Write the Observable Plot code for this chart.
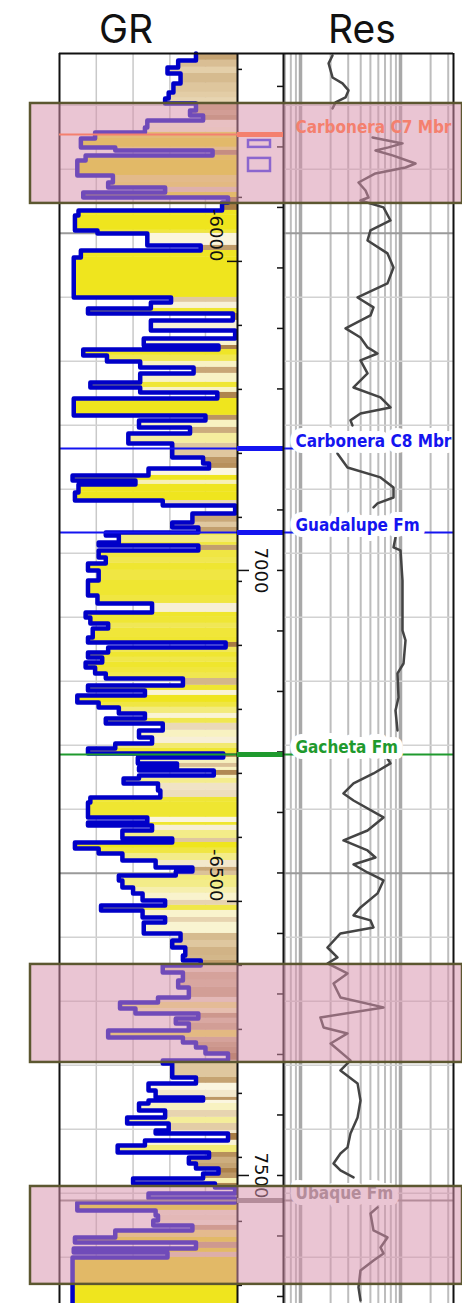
<!DOCTYPE html>
<html><head><meta charset="utf-8">
<script src="https://cdn.jsdelivr.net/npm/d3@7"></script>
<script src="https://cdn.jsdelivr.net/npm/@observablehq/plot@0.6"></script>
<style>
body{margin:0;background:#fff;}
#wrap{position:relative;width:462px;height:1303px;overflow:hidden;background:#fff;}
#wrap svg{position:absolute;left:0;top:0;}
.title{position:absolute;top:9px;font-family:Inter,"Open Sans",sans-serif;font-size:39px;font-weight:400;color:#111;line-height:39px;transform:translateX(-50%);white-space:nowrap;}
</style></head><body><div id="wrap"></div>
<script>
// ---------- data ----------
const depthTop = 6572.8, depthBottom = 7605.8;   // MD, ft

const grDepth = [6572.8,6578.5,6584.3,6589.3,6597.5,6605.0,6609.9,6614.1,6619.9,6624.0,
6628.1,6633.9,6638.0,6643.0,6650.4,6652.9,6657.0,6661.2,6673.6,6679.4,
6683.5,6687.6,6691.8,6695.9,6702.5,6706.6,6719.0,6721.5,6731.4,6735.6,
6741.3,6774.4,6778.5,6783.5,6787.6,6793.4,6801.7,6808.3,6814.1,6817.4,
6822.3,6827.3,6832.2,6837.2,6844.6,6848.8,6852.9,6857.9,6871.9,6876.0,
6881.8,6886.8,6895.0,6906.6,6911.6,6915.7,6921.5,6925.6,6928.9,6935.5,
6942.2,6946.3,6952.9,6960.3,6964.5,6968.6,6971.1,6976.9,6979.3,6983.5,
6989.3,6994.2,7000.0,7008.3,7020.7,7027.3,7034.7,7038.8,7043.8,7047.9,
7055.4,7059.5,7063.6,7067.8,7071.9,7076.0,7080.2,7085.1,7089.3,7095.0,
7099.2,7103.3,7109.1,7113.2,7118.2,7122.3,7126.4,7132.2,7138.0,7143.0,
7147.1,7151.2,7154.5,7159.5,7162.8,7165.3,7169.4,7171.9,7176.0,7181.8,
7187.6,7191.7,7204.1,7208.3,7210.7,7214.9,7221.5,7224.8,7229.7,7233.9,
7239.7,7245.4,7248.7,7252.1,7256.2,7262.0,7266.9,7272.7,7276.8,7281.0,
7286.8,7290.9,7300.0,7305.8,7311.6,7318.2,7322.3,7326.4,7332.2,7338.8,
7344.6,7352.9,7357.0,7362.0,7366.1,7370.2,7374.4,7380.1,7385.9,7390.1,
7394.2,7399.2,7404.9,7407.4,7419.0,7423.9,7429.7,7435.5,7438.0,7440.5,
7446.3,7452.0,7457.0,7462.8,7465.3,7471.0,7475.2,7481.0,7485.1,7490.1,
7494.2,7498.3,7502.5,7506.6,7509.9,7514.8,7519.0,7522.3,7528.9,7533.0,
7537.2,7541.3,7545.4,7551.2,7555.3,7560.3,7563.6,7567.7];
const grValue = [115,100,91,102,96,92,89,115,110,121,
74,72,30,18,47,129,22,15,45,41,
89,20,142,137,16,13,32,74,119,18,
12,94,77,24,146,77,148,71,134,20,
40,68,113,68,26,68,133,12,123,67,
110,58,95,121,126,75,11,64,16,13,
87,148,112,95,117,39,50,33,117,33,
39,24,33,24,32,78,22,26,41,28,
24,140,41,24,36,22,30,39,104,24,
72,15,33,50,72,39,87,67,78,47,
24,138,66,99,67,130,67,54,83,85,
26,24,74,24,78,53,95,13,33,53,
81,112,98,50,53,62,70,89,35,70,
89,71,102,95,106,104,119,87,104,100,
109,83,51,64,117,98,109,41,104,115,
123,142,87,95,115,75,81,121,75,67,
89,57,92,81,142,72,49,126,109,115,
134,121,62,131,148,75,148,15,81,83,
79,112,47,13,115,12,91,11];

const resDepth = [6574.4,6581.0,6592.6,6597.5,6603.3,6609.1,6613.2,6618.2,
6642.2,6647.1,6650.4,6652.9,6657.0,6663.7,6667.0,6671.9,6679.4,6686.0,6691.8,6694.3,6700.0,6710.8,6719.0,6727.3,6738.0,6749.6,6762.8,6774.4,6782.6,6789.3,6800.0,6807.5,6815.7,6820.7,6826.4,6837.2,6848.8,6857.0,6865.3,6870.3,6876.0,6880.2,
6903.3,6914.9,6923.1,6931.4,6939.7,6944.6,6947.9,
6972.7,6981.0,6983.5,7008.3,7049.6,7057.8,7076.9,7085.1,7105.0,7115.7,7132.2,
7155.4,7159.5,7167.8,7176.0,7184.3,7190.1,7204.1,7214.9,7223.1,7231.4,7237.2,7243.0,7249.6,7256.2,7266.9,7278.5,7285.1,7289.2,7295.0,7300.0,7311.6,7319.8,7324.8,7333.0,7341.3,7352.9,7361.1,7369.4,7377.7,7382.6,7390.9,7404.9,7413.2,7423.9,7438.0,7452.0,7465.3,7476.8,7481.8,7490.1,7495.8,7501.6,
7526.4,7531.4,7545.4,7551.2,7559.5,7564.4,7570.2,7578.5,7592.5,7603.3];
const resValue = [2.09,1.91,2.09,2.63,3.02,2.82,2.24,2.09,
5.25,10.47,7.59,5.62,8.32,14.13,11.22,5.62,3.80,4.47,4.79,3.98,6.76,7.94,5.01,4.68,7.41,8.51,7.41,3.72,5.37,5.01,2.82,3.98,4.68,5.89,3.98,4.68,3.39,6.31,7.94,3.98,3.16,3.31,
2.34,2.95,6.31,8.51,8.51,5.89,5.37,
8.91,8.51,10.0,10.47,10.47,11.22,10.72,9.33,9.55,8.91,9.33,
7.41,7.94,5.37,3.39,2.69,3.39,6.76,4.68,2.69,4.68,5.62,3.39,4.68,6.76,5.89,3.98,3.39,5.01,5.37,2.51,1.86,2.34,1.86,2.95,2.14,2.51,6.76,1.58,1.70,2.95,2.0,3.16,2.51,3.72,3.98,3.72,3.16,2.95,2.51,2.14,2.51,3.39,
5.89,5.01,5.37,7.41,6.31,6.76,5.37,3.98,3.80,3.98];
const resRunLength = [8,34,7,11,42,10];

const topName  = ["Carbonera C7 Mbr","Carbonera C8 Mbr","Guadalupe Fm","Gacheta Fm","Ubaque Fm"];
const topDepth = [6639.7,6899.2,6968.6,7152.1,7520.6];
const topColor = ["#f4806e","#1414f0","#1414f0","#1f9a2e","#8e8888"];
const topAbove = [true,false,false,false,false];

const boxTop    = [6614.1,7325.6,7509.1];
const boxBottom = [6696.7,7406.6,7590.0];

const coreTop    = [6644.7,6659.5];
const coreBottom = [6650.4,6670.3];

const mdLabelDepth = [7000,7500];
const mdLabelText  = ["7000","7500"];
const tvdLabelValue = [-6000,-6500];
const tvdLabelText  = ["-6000","-6500"];
const tvdAnchorTvd = [-6000,-6500];
const tvdAnchorMd  = [6744.6,7273.5];
const gridTvd = d3.range(-5878,-6900,-50);
const gridTvdMajor = [-5978,-6478];

const grDomain = [0,150];
const grGrid = [31,62,93,123];
const resDomain = [0.676,33.88];
const resGridMinor = [0.7,0.8,0.9,2,3,4,5,6,7,8,9,20,30];
const resGridMajor = [1,10];
const grFillStops  = [15,40,60,75,92,112,138];
const grFillColors = ["#efe51e","#f0e752","#f5eea6","#fbf6e0","#e3cda6","#c9a878","#a77b44"];

// ---------- derived tables ----------
const W = 462, H = 1303, TOPPX = 53;
const tvdToMd = d3.scaleLinear().domain(tvdAnchorTvd).range(tvdAnchorMd);
const grColor = d3.scaleLinear().domain(grFillStops).range(grFillColors).clamp(true);
const inDepth = d => d >= depthTop && d <= depthBottom;

const grSteps = grDepth.map((d,i)=>({d, gr:grValue[i], next: i+1<grDepth.length ? grDepth[i+1] : depthBottom, right: grDomain[1], color: grColor(grValue[i])}));
const grLine = grDepth.map((d,i)=>({d, gr:grValue[i]})).concat([{d:depthBottom, gr:grValue[grValue.length-1]}]);

const runIdx = resRunLength.flatMap((n,k)=>Array(n).fill(k));
const resData = resDepth.map((d,i)=>({d, v:resValue[i], run:runIdx[i]}));

const tops = topName.map((name,i)=>({name, depth:topDepth[i], color:topColor[i], above:topAbove[i]}));
const topsBelow = tops.filter(t=>!t.above), topsAboveArr = tops.filter(t=>t.above);
const boxes = boxTop.map((t,i)=>({top:t, bottom:boxBottom[i]}));
const cores = coreTop.map((t,i)=>({top:t, bottom:coreBottom[i]}));
const mdLabels = mdLabelDepth.map((d,i)=>({depth:d, label:mdLabelText[i]}));
const tvdLabels = tvdLabelValue.map((t,i)=>({md:tvdToMd(t), label:tvdLabelText[i]}));
const gridMinorMd = gridTvd.filter(t=>!gridTvdMajor.includes(t)).map(tvdToMd).filter(inDepth);
const gridMajorMd = gridTvdMajor.map(tvdToMd).filter(inDepth);
const tvdTickMd = d3.range(-5850,-7000,-50).map(tvdToMd).filter(inDepth);
const mdTicks = d3.range(6600,7650,50).filter(inDepth);

const base = {width:W, height:H, marginTop:TOPPX, marginBottom:0,
  y:{domain:[depthTop,depthBottom], reverse:true, axis:null},
  color:{type:"identity"},
  style:{background:"none", overflow:"visible"}};
const labelFont = {fontSize:17, fontFamily:"DejaVu Sans Condensed, DejaVu Sans, sans-serif", fontWeight:"bold"};
const depthFont = {fontSize:18, fontFamily:"DejaVu Sans, sans-serif"};

function grPlot(layer){
  const marks = layer==="base" ? [
    Plot.ruleX(grGrid,{stroke:"#c9c9c9",strokeWidth:1.5}),
    Plot.ruleY(gridMinorMd,{stroke:"#d2d2d2",strokeWidth:1.5}),
    Plot.ruleY(gridMajorMd,{stroke:"#9a9a9a",strokeWidth:2}),
    Plot.rect(grSteps,{x1:"gr",x2:"right",y1:"d",y2:"next",fill:"color"}),
    Plot.line(grLine,{x:"gr",y:"d",curve:"step-before",stroke:"#0000c8",strokeWidth:4.5}),
    Plot.ruleY(topsBelow,{y:"depth",stroke:"color",strokeWidth:2}),
    Plot.tickY(tvdLabels,{y:"md",insetLeft:168,strokeWidth:1.5,stroke:"#111"}),
    Plot.text(tvdLabels,{y:"md",text:"label",rotate:90,frameAnchor:"right",dx:-22,fill:"#111",...depthFont}),
    Plot.ruleX(grDomain,{stroke:"#111",strokeWidth:2}),
    Plot.ruleY([depthTop],{stroke:"#111",strokeWidth:2})
  ] : [
    Plot.ruleY(topsAboveArr,{y:"depth",stroke:"color",strokeWidth:2})
  ];
  return Plot.plot({...base, marginLeft:59, marginRight:W-237, x:{domain:grDomain, axis:null}, marks});
}
function depthPlot(layer){
  const marks = layer==="base" ? [
    Plot.ruleY([depthTop],{stroke:"#111",strokeWidth:2}),
    Plot.tickY(tvdTickMd,{insetRight:41,strokeWidth:1.5,stroke:"#111"}),
    Plot.tickY(mdTicks,{insetLeft:40,strokeWidth:1.5,stroke:"#111"}),
    Plot.tickY(mdLabels,{y:"depth",insetRight:34,strokeWidth:1.5,stroke:"#111"}),
    Plot.text(mdLabels,{y:"depth",text:"label",rotate:90,fill:"#111",...depthFont}),
    Plot.rect(cores,{y1:"top",y2:"bottom",insetLeft:11,insetRight:13,fill:"none",stroke:"#3a3af5",strokeWidth:2.5}),
    Plot.ruleY(topsBelow,{y:"depth",stroke:"color",strokeWidth:5})
  ] : [
    Plot.ruleY(topsAboveArr,{y:"depth",stroke:"color",strokeWidth:5})
  ];
  return Plot.plot({...base, marginLeft:237, marginRight:W-283, x:{domain:[0,1], axis:null}, marks});
}
function resPlot(layer){
  const marks = layer==="base" ? [
    Plot.ruleX(resGridMinor,{stroke:"#bdbdbd",strokeWidth:2}),
    Plot.ruleX(resGridMajor,{stroke:"#a8a8a8",strokeWidth:3.5}),
    Plot.ruleY(gridMinorMd,{stroke:"#d2d2d2",strokeWidth:1.5}),
    Plot.ruleY(gridMajorMd,{stroke:"#9a9a9a",strokeWidth:2}),
    Plot.line(resData,{x:"v",y:"d",z:"run",stroke:"#444",strokeWidth:2.5}),
    Plot.ruleY(topsBelow,{y:"depth",stroke:"color",strokeWidth:2}),
    Plot.text(topsBelow,{y:"depth",text:"name",fill:"color",frameAnchor:"left",dx:12,textAnchor:"start",lineAnchor:"bottom",dy:-1,stroke:"white",strokeWidth:12,...labelFont}),
    Plot.ruleX(resDomain,{stroke:"#111",strokeWidth:2}),
    Plot.ruleY([depthTop],{stroke:"#111",strokeWidth:2})
  ] : [
    Plot.text(topsAboveArr,{y:"depth",text:"name",fill:"color",frameAnchor:"left",dx:12,textAnchor:"start",lineAnchor:"bottom",dy:-1,...labelFont})
  ];
  return Plot.plot({...base, marginLeft:283, marginRight:W-453, x:{type:"log", domain:resDomain, axis:null}, marks});
}
function overlayPlot(){
  return Plot.plot({...base, marginLeft:30, marginRight:0,
    marks:[Plot.rect(boxes,{y1:"top",y2:"bottom",fill:"#d690ab",fillOpacity:0.52,stroke:"#5c5730",strokeWidth:2.5})]});
}

const wrap = document.getElementById("wrap");
[grPlot("base"), depthPlot("base"), resPlot("base"), overlayPlot(), grPlot("top"), depthPlot("top"), resPlot("top")]
  .forEach(svg => wrap.appendChild(svg));

const titles = [{text:"GR", x:126},{text:"Res", x:362}];
titles.forEach(t=>{const el=document.createElement("div"); el.className="title"; el.textContent=t.text; el.style.left=t.x+"px"; wrap.appendChild(el);});
</script></body></html>
